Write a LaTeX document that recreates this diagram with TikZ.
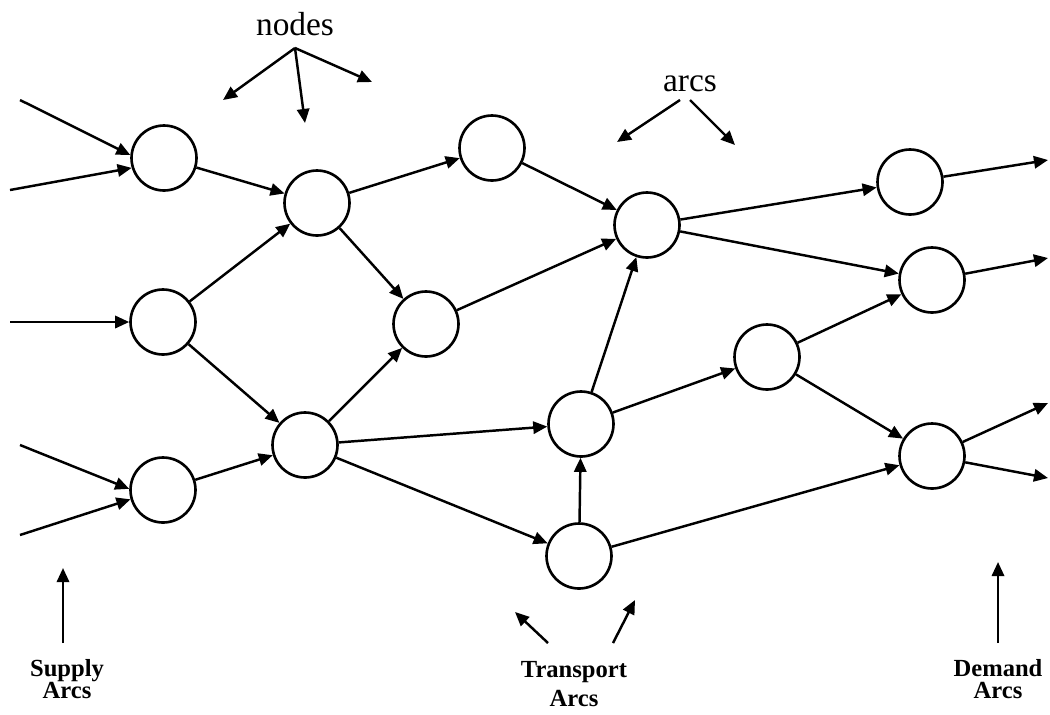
\documentclass[tikz,border=0pt]{standalone}
\usepackage{fontspec}
\setmainfont{Liberation Serif}
\usetikzlibrary{positioning, arrows.meta}
\tikzset{
  netnode/.style={circle, draw=black, line width=1.5pt, fill=white,
                  minimum size=1.3cm, inner sep=0pt},
  toptext/.style={font=\fontsize{19}{22}\selectfont, anchor=base},
  arclabel/.style={align=center, font=\fontsize{14}{13}\selectfont\bfseries},
}

\begin{document}
\begin{tikzpicture}[
    x=0.02cm, y=-0.02cm,
    arrow/.style={-{Triangle[length=8pt, width=7pt]}, line width=1.4pt},
  ]
    \useasboundingbox (0,0) rectangle (1050,714);

    % network nodes, column by column
    \node[netnode] (A1) at (164,158) {};
    \node[netnode] (A2) at (163,322) {};
    \node[netnode] (A3) at (163,490) {};
    \node[netnode] (B1) at (317,203) {};
    \node[netnode] (B2) at (305,445) {};
    \node[netnode] (C1) at (492,148) {};
    \node[netnode] (C2) at (426,324) {};
    \node[netnode] (D1) at (647,225) {};
    \node[netnode] (D2) at (581,424) {};
    \node[netnode] (D3) at (579,556) {};
    \node[netnode] (E1) at (767,357) {};
    \node[netnode] (F1) at (910,182) {};
    \node[netnode] (F2) at (932,280) {};
    \node[netnode] (F3) at (932,456) {};

    % loose ends of supply and demand arcs
    \coordinate (in1) at (20,100);
    \coordinate (in2) at (10,190);
    \coordinate (in3) at (10,322);
    \coordinate (in4) at (20,445);
    \coordinate (in5) at (20,535);
    \coordinate (out1) at (1048,160);
    \coordinate (out2) at (1048,258);
    \coordinate (out3) at (1048,403);
    \coordinate (out4) at (1048,478);

    \draw[arrow] (in1) -- (A1.175);
    \draw[arrow] (in2) -- (A1.197);
    \draw[arrow] (in3) -- (A2.west);
    \draw[arrow] (in4) -- (A3.178);
    \draw[arrow] (in5) -- (A3.196);

    % transport arcs
    \draw[arrow] (A1) -- (B1);
    \draw[arrow] (A2) -- (B1);
    \draw[arrow] (A2) -- (B2);
    \draw[arrow] (A3) -- (B2);
    \draw[arrow] (B1) -- (C1);
    \draw[arrow] (B1) -- (C2);
    \draw[arrow] (B2) -- (C2);
    \draw[arrow] (B2) -- (D2);
    \draw[arrow] (B2) -- (D3);
    \draw[arrow] (C1) -- (D1);
    \draw[arrow] (C2) -- (D1);
    \draw[arrow] (D2) -- (D1);
    \draw[arrow] (D3) -- (D2);
    \draw[arrow] (D2) -- (E1);
    \draw[arrow] (D3) -- (F3);
    \draw[arrow] (D1) -- (F1);
    \draw[arrow] (D1) -- (F2);
    \draw[arrow] (E1) -- (F2);
    \draw[arrow] (E1) -- (F3);

    \draw[arrow] (F1) -- (out1);
    \draw[arrow] (F2) -- (out2);
    \draw[arrow] (F3) -- (out3);
    \draw[arrow] (F3) -- (out4);

    % captions on top
    \node[toptext] (lblnodes) at (295,35) {nodes};
    \coordinate (nroot) at (295,48);
    \coordinate (ntip1) at (223,100);
    \coordinate (ntip2) at (305,123);
    \coordinate (ntip3) at (372,82);
    \draw[arrow] (nroot) -- (ntip1);
    \draw[arrow] (nroot) -- (ntip2);
    \draw[arrow] (nroot) -- (ntip3);

    \node[toptext] (lblarcs) at (690,91) {arcs};
    \coordinate (aroot1) at (680,100);
    \coordinate (aroot2) at (690,100);
    \coordinate (atip1) at (617,142);
    \coordinate (atip2) at (735,145);
    \draw[arrow] (aroot1) -- (atip1);
    \draw[arrow] (aroot2) -- (atip2);

    % captions at the bottom
    \node[arclabel] (supply) at (67,679) {Supply\\Arcs};
    \node[arclabel] (transport) at (574,684) {Transport\\[4pt]Arcs};
    \node[arclabel] (demand) at (998,679) {Demand\\Arcs};

    \coordinate (sroot) at (63,643);
    \coordinate (stip) at (63,568);
    \coordinate (troot1) at (548,643);
    \coordinate (ttip1) at (515,612);
    \coordinate (troot2) at (613,643);
    \coordinate (ttip2) at (635,600);
    \coordinate (droot) at (998,643);
    \coordinate (dtip) at (998,562);
    \draw[arrow] (sroot) -- (stip);
    \draw[arrow] (troot1) -- (ttip1);
    \draw[arrow] (troot2) -- (ttip2);
    \draw[arrow] (droot) -- (dtip);
\end{tikzpicture}
\end{document}
